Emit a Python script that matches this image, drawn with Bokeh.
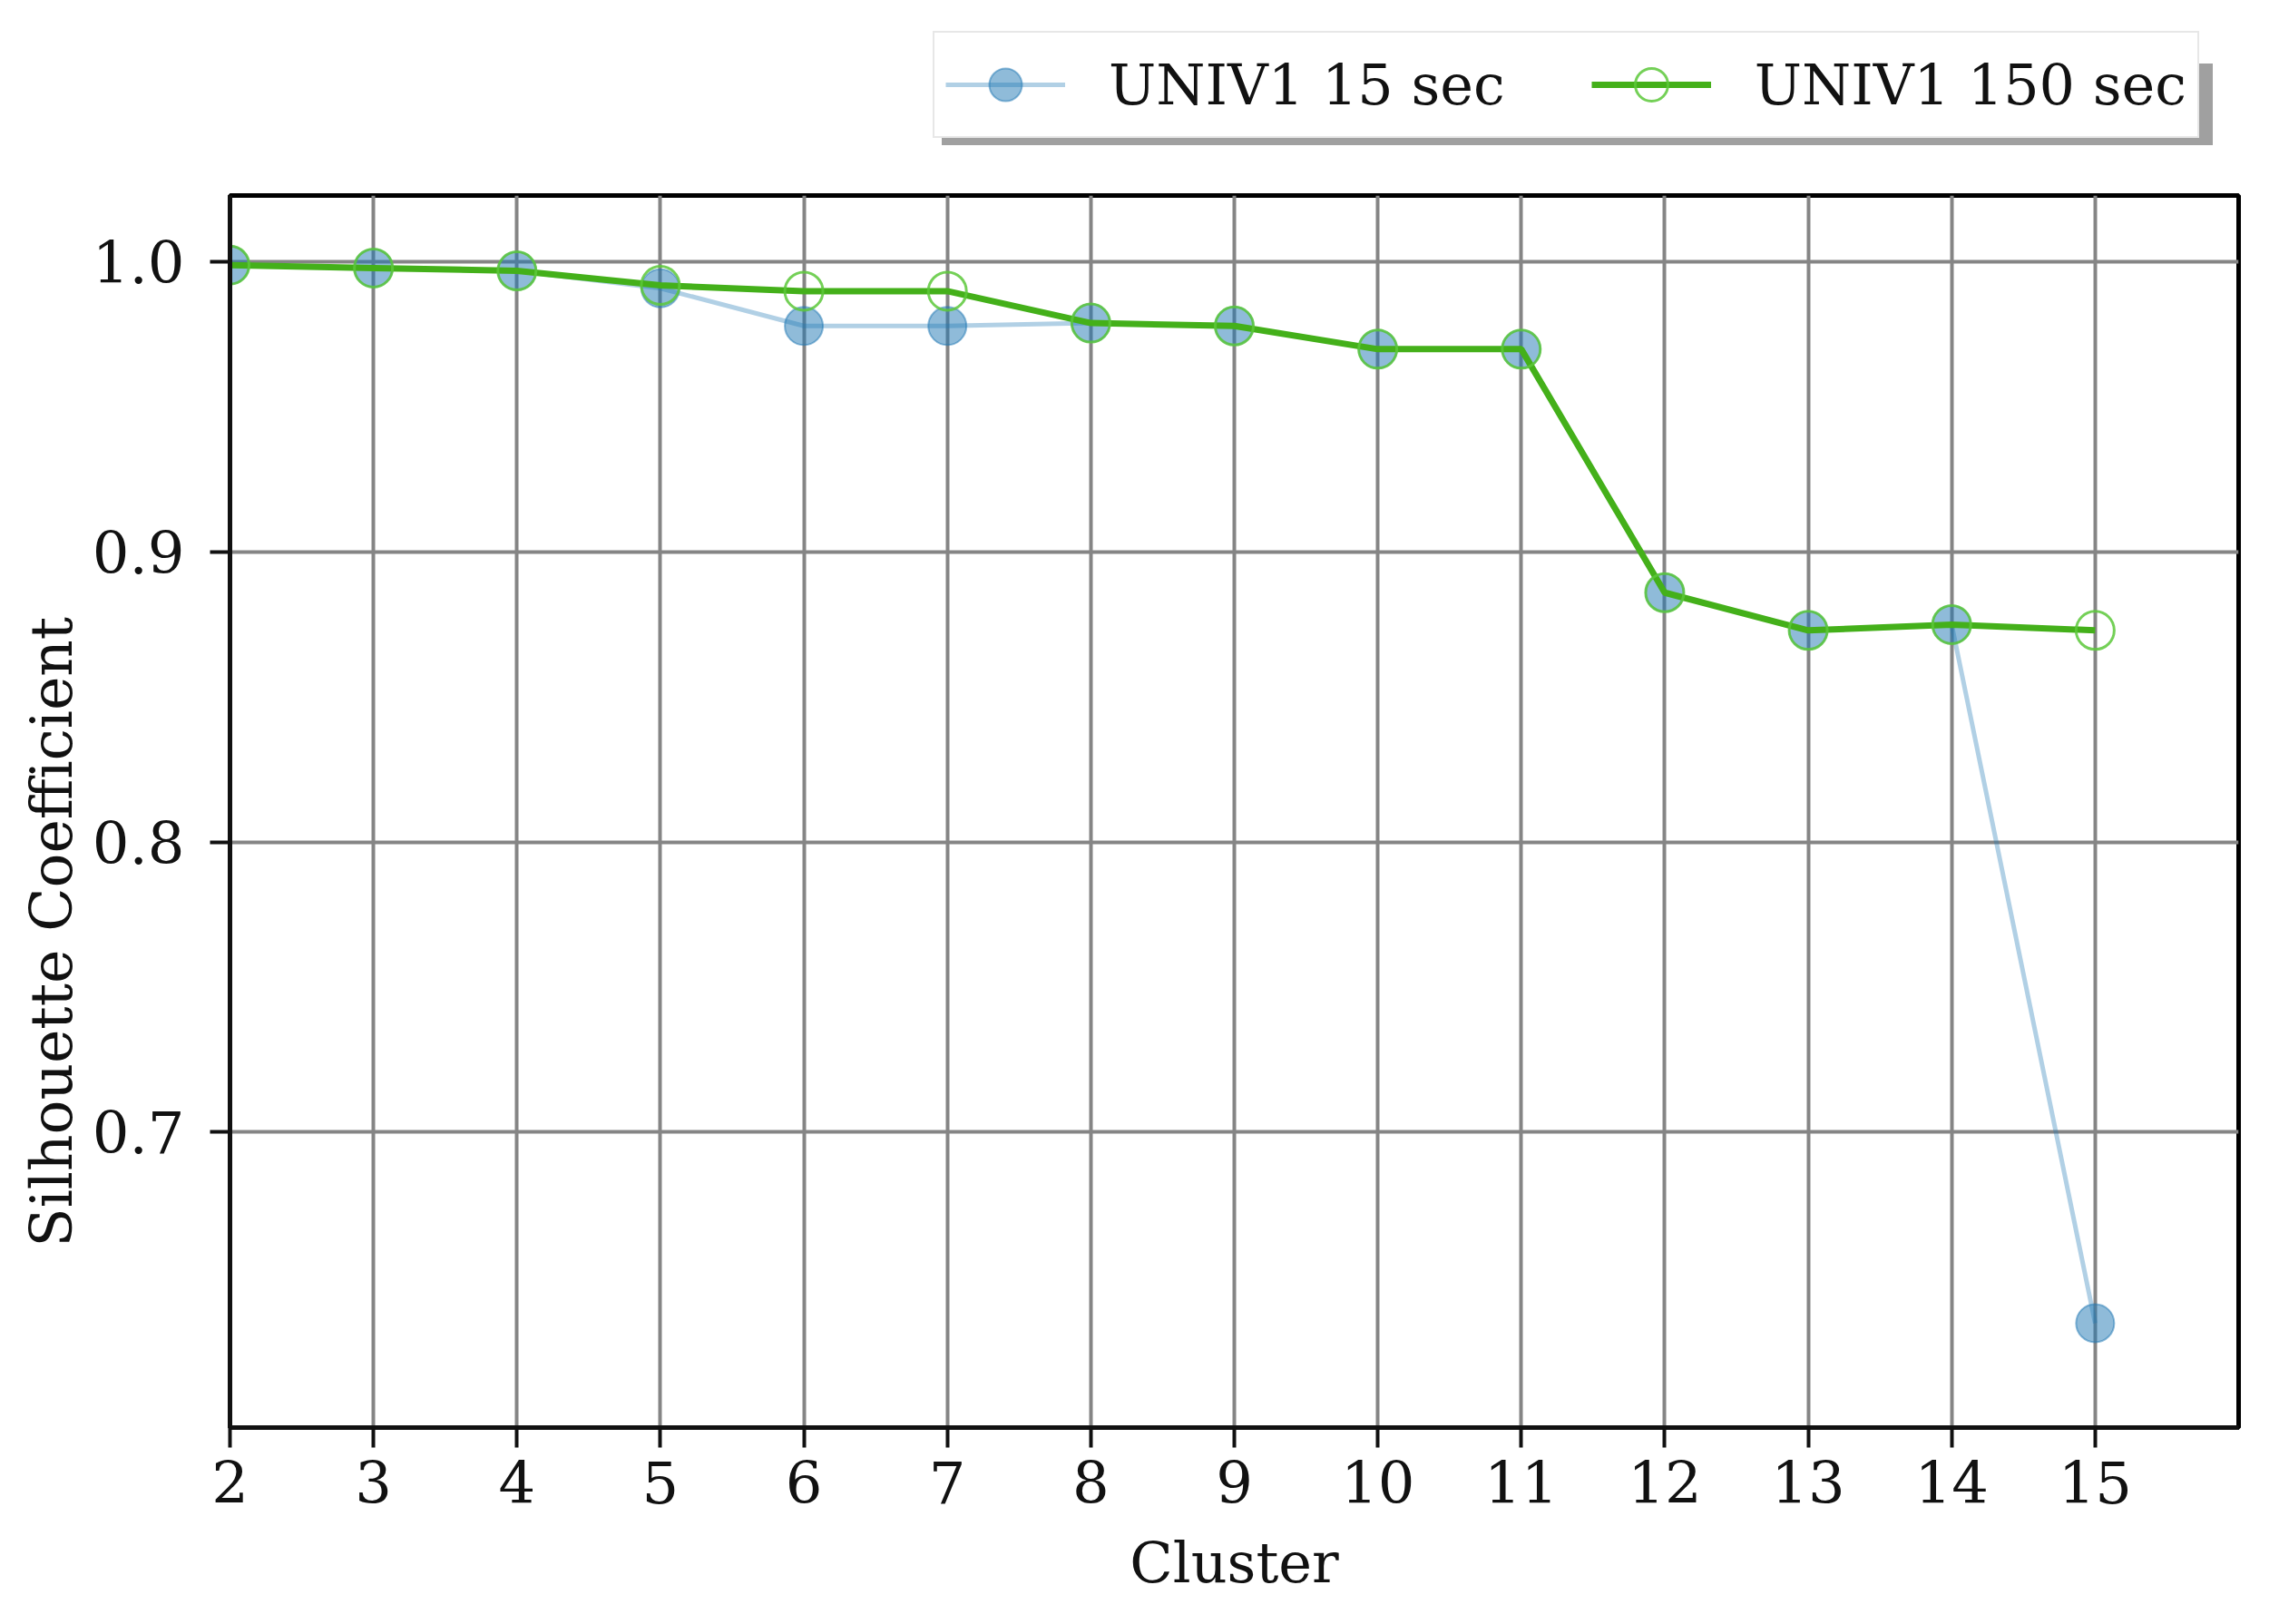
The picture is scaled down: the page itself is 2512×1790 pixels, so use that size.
from bokeh.plotting import figure
from bokeh.models import FixedTicker, Legend, LegendItem, Title, PrintfTickFormatter
from bokeh.layouts import column
from bokeh.embed import file_html
from bokeh.resources import INLINE

clusters = [2, 3, 4, 5, 6, 7, 8, 9, 10, 11, 12, 13, 14, 15]
univ1_15 = [0.999, 0.998, 0.997, 0.991, 0.978, 0.978, 0.979, 0.978, 0.970, 0.970, 0.886, 0.873, 0.875, 0.634]
univ1_150 = [0.999, 0.998, 0.997, 0.992, 0.990, 0.990, 0.979, 0.978, 0.970, 0.970, 0.886, 0.873, 0.875, 0.873]
y_ticks = [0.7, 0.8, 0.9, 1.0]
series_names = ["UNIV1 15 sec", "UNIV1 150 sec"]

FONT = "DejaVu Serif"
BLUE = "#1f77b4"
GREEN = "#44b01a"
GREEN_M = "#5cc83a"

blue_line = dict(line_color=BLUE, line_alpha=0.35, line_width=5)
blue_mark = dict(size=42, marker="circle", fill_color=BLUE, fill_alpha=0.5,
                 line_color=BLUE, line_alpha=0.5, line_width=2)
green_line = dict(line_color=GREEN, line_width=7)
green_mark = dict(size=42, marker="circle", fill_alpha=0, line_color=GREEN_M,
                  line_alpha=0.85, line_width=3)

# ---------- main plot ----------
p = figure(frame_width=2214, frame_height=1358, x_range=(2, 16), y_range=(0.598, 1.023),
           output_backend="svg", toolbar_location=None,
           min_border_left=253, min_border_right=37, min_border_top=5, min_border_bottom=209)
p.background_fill_color = "white"
p.border_fill_color = "white"
p.outline_line_color = "black"
p.outline_line_width = 5

p.line(clusters, univ1_15, **blue_line)
p.scatter(clusters, univ1_15, **blue_mark)
p.line(clusters, univ1_150, **green_line)
p.scatter(clusters, univ1_150, **green_mark)

for ax in (p.xaxis[0], p.yaxis[0]):
    ax.major_label_text_font = FONT
    ax.major_label_text_font_size = "64px"
    ax.major_label_text_color = "#111111"
    ax.major_tick_out = 22
    ax.major_tick_in = 0
    ax.major_tick_line_width = 4
    ax.major_tick_line_color = "#111111"
    ax.minor_tick_line_color = None
    ax.axis_line_width = 5
    ax.axis_line_color = "#111111"

p.xaxis.ticker = FixedTicker(ticks=clusters)
p.yaxis.ticker = FixedTicker(ticks=y_ticks)
p.yaxis.formatter = PrintfTickFormatter(format="%.1f")
p.xaxis.major_label_standoff = 14
p.yaxis.major_label_standoff = 28
p.xaxis.axis_label = "Cluster"
p.xaxis.axis_label_text_font = FONT
p.xaxis.axis_label_text_font_size = "62px"
p.xaxis.axis_label_text_font_style = "normal"
p.xaxis.axis_label_text_color = "#111111"
p.xaxis.axis_label_standoff = 26

p.add_layout(Title(text="Silhouette Coefficient", align="left", offset=199,
                   text_font=FONT, text_font_size="63px", text_font_style="normal",
                   text_color="#111111"), "left")

p.xgrid.ticker = FixedTicker(ticks=clusters)
p.ygrid.ticker = FixedTicker(ticks=y_ticks)
for g in (p.xgrid[0], p.ygrid[0]):
    g.grid_line_color = "#858585"
    g.grid_line_width = 4

# ---------- legend strip above the plot (frame aligned with the main plot) ----------
top = figure(frame_width=2214, height=210, x_range=(-1, 0), y_range=(-1, 0),
             x_axis_type=None, y_axis_type=None, output_backend="svg",
             toolbar_location=None, min_border_left=253, min_border_right=37,
             min_border_top=0, min_border_bottom=0)
top.outline_line_color = None
top.xgrid.visible = False
top.ygrid.visible = False
top.background_fill_color = "white"
top.border_fill_color = "white"

# drop shadow behind the legend box (one blank, transparent item)
s1l = top.line(clusters, univ1_15, line_alpha=0)
shadow = Legend(items=[LegendItem(label="", renderers=[s1l])],
                orientation="horizontal", location=(785, 50), margin=0,
                padding=12, spacing=0, glyph_width=1333, glyph_height=90,
                label_standoff=48, label_text_font=FONT, label_text_font_size="62px",
                label_text_alpha=0, border_line_color=None,
                background_fill_color="#a0a0a0", background_fill_alpha=1.0)
top.add_layout(shadow, "center")

d1l = top.line(clusters, univ1_15, **blue_line)
d1m = top.scatter(clusters, univ1_15, **blue_mark)
d2l = top.line(clusters, univ1_150, **green_line)
d2m = top.scatter(clusters, univ1_150, **green_mark)
legend = Legend(items=[LegendItem(label=series_names[0], renderers=[d1l, d1m]),
                       LegendItem(label=series_names[1], renderers=[d2l, d2m])],
                orientation="horizontal", location=(775, 58), margin=0,
                padding=12, spacing=95, glyph_width=132, glyph_height=90,
                label_standoff=48, label_text_font=FONT, label_text_font_size="62px",
                label_text_color="#111111",
                border_line_color="#d0d0d0", border_line_width=2,
                background_fill_color="white", background_fill_alpha=1.0)
top.add_layout(legend, "center")

layout = column(top, p, spacing=0)
open("out.html", "w").write(file_html(layout, INLINE))
